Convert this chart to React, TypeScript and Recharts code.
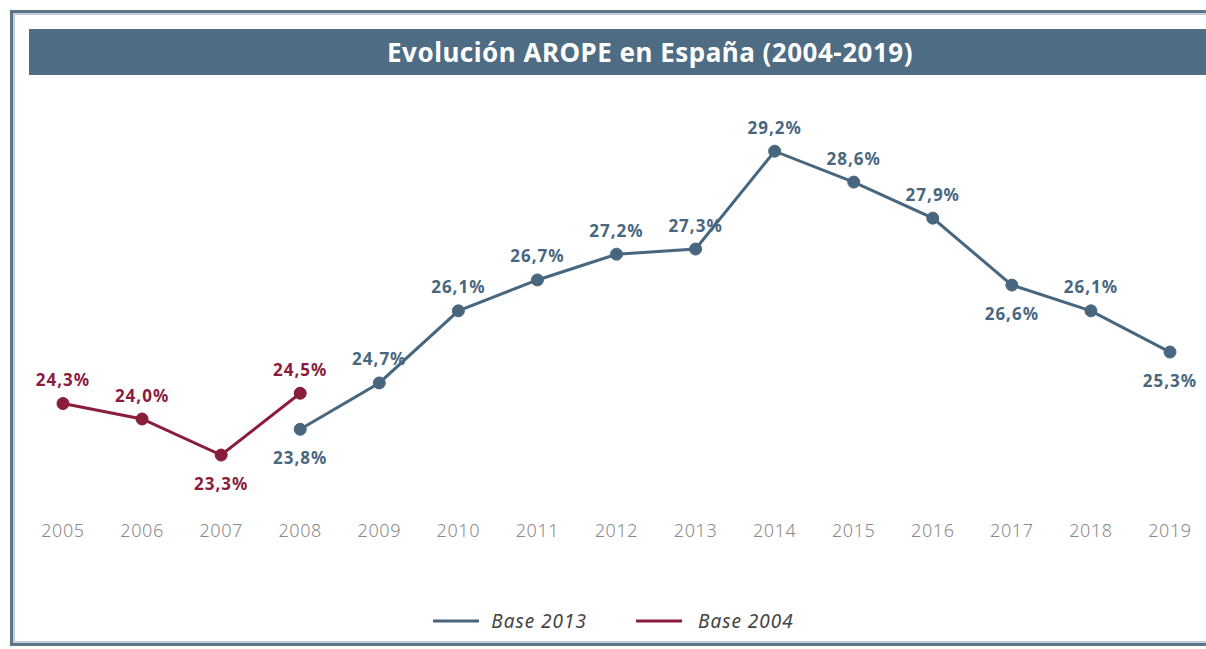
import React from 'react';
import { LineChart, Line, XAxis, YAxis, Legend } from 'recharts';

const years = ['2005','2006','2007','2008','2009','2010','2011','2012','2013','2014','2015','2016','2017','2018','2019'];
const base2004: (number | null)[] = [24.3, 24.0, 23.3, 24.5, null, null, null, null, null, null, null, null, null, null, null];
const base2013: (number | null)[] = [null, null, null, 23.8, 24.7, 26.1, 26.7, 27.2, 27.3, 29.2, 28.6, 27.9, 26.6, 26.1, 25.3];
const below2004 = ['2007'];
const below2013 = ['2008', '2017', '2019'];

const BLUE = '#48677f';
const RED = '#8a1c3c';
const FONT = "'Noto Sans', sans-serif";

const data = years.map((y, i) => ({ year: y, b2004: base2004[i], b2013: base2013[i] }));

const fmt = (v: number) => v.toFixed(1).replace('.', ',') + '%';

const makeLabel = (color: string, belowSet: string[]) => (props: any) => {
  const { x, y, value, index } = props;
  if (value == null) return null;
  const below = belowSet.includes(years[index]);
  return (
    <text x={x} y={below ? y + 28 : y - 24} fill={color} fontSize={17} fontWeight={700}
      letterSpacing={1} fontFamily={FONT} textAnchor="middle" dominantBaseline="central">
      {fmt(value)}
    </text>
  );
};

const LegendContent = () => (
  <div style={{ display: 'flex', justifyContent: 'center', alignItems: 'center', fontFamily: FONT, fontStyle: 'italic', fontSize: 19, letterSpacing: 1, color: '#444' }}>
    <svg width={46} height={6} style={{ marginRight: 12 }}><line x1={0} y1={3} x2={46} y2={3} stroke={BLUE} strokeWidth={3} /></svg>
    <span style={{ marginRight: 49 }}>Base 2013</span>
    <svg width={46} height={6} style={{ marginRight: 16 }}><line x1={0} y1={3} x2={46} y2={3} stroke={RED} strokeWidth={3} /></svg>
    <span>Base 2004</span>
  </div>
);

export default function App() {
  return (
    <div style={{ position: 'absolute', left: 0, top: 0, width: 1206, height: 649, background: '#fff', overflow: 'hidden' }}>
      <div style={{ position: 'absolute', left: 10, top: 10, width: 1210, height: 636, border: '3px solid #5d7587', boxSizing: 'border-box' }} />
      <div style={{ position: 'absolute', left: 13, top: 13, width: 1210, height: 630, border: '2px solid #bfd0dc', boxSizing: 'border-box' }} />
      <div style={{ position: 'absolute', left: 29, top: 29, width: 1190, height: 46, background: '#4e6c83' }} />
      <div style={{ position: 'absolute', left: 0, top: 29, width: 1300, height: 46, color: '#fff', display: 'flex', alignItems: 'center', justifyContent: 'center', fontFamily: FONT, fontWeight: 700, fontSize: 26, letterSpacing: 0.5 }}>
        Evolución AROPE en España (2004-2019)
      </div>
      <div style={{ position: 'absolute', left: 0, top: 0 }}>
        <LineChart width={1206} height={649} data={data} margin={{ top: 110, right: 36, left: 63, bottom: 97 }}>
          <XAxis dataKey="year" axisLine={false} tickLine={false} tickSize={0} height={30}
            tick={{ fill: '#8a8a8a', fontSize: 18, fontFamily: FONT, fontWeight: 300, letterSpacing: 0.6 }} interval={0} />
          <YAxis hide domain={[22, 30]} />
          <Legend layout="horizontal" verticalAlign="middle" align="center" content={<LegendContent />}
            wrapperStyle={{ top: 608, left: 0, width: 1227 }} />
          <Line dataKey="b2013" name="Base 2013" stroke={BLUE} strokeWidth={3} isAnimationActive={false}
            dot={{ r: 6, fill: BLUE, stroke: BLUE, strokeWidth: 1 }} connectNulls={false} label={makeLabel(BLUE, below2013)} />
          <Line dataKey="b2004" name="Base 2004" stroke={RED} strokeWidth={3} isAnimationActive={false}
            dot={{ r: 6, fill: RED, stroke: RED, strokeWidth: 1 }} connectNulls={false} label={makeLabel(RED, below2004)} />
        </LineChart>
      </div>
    </div>
  );
}
